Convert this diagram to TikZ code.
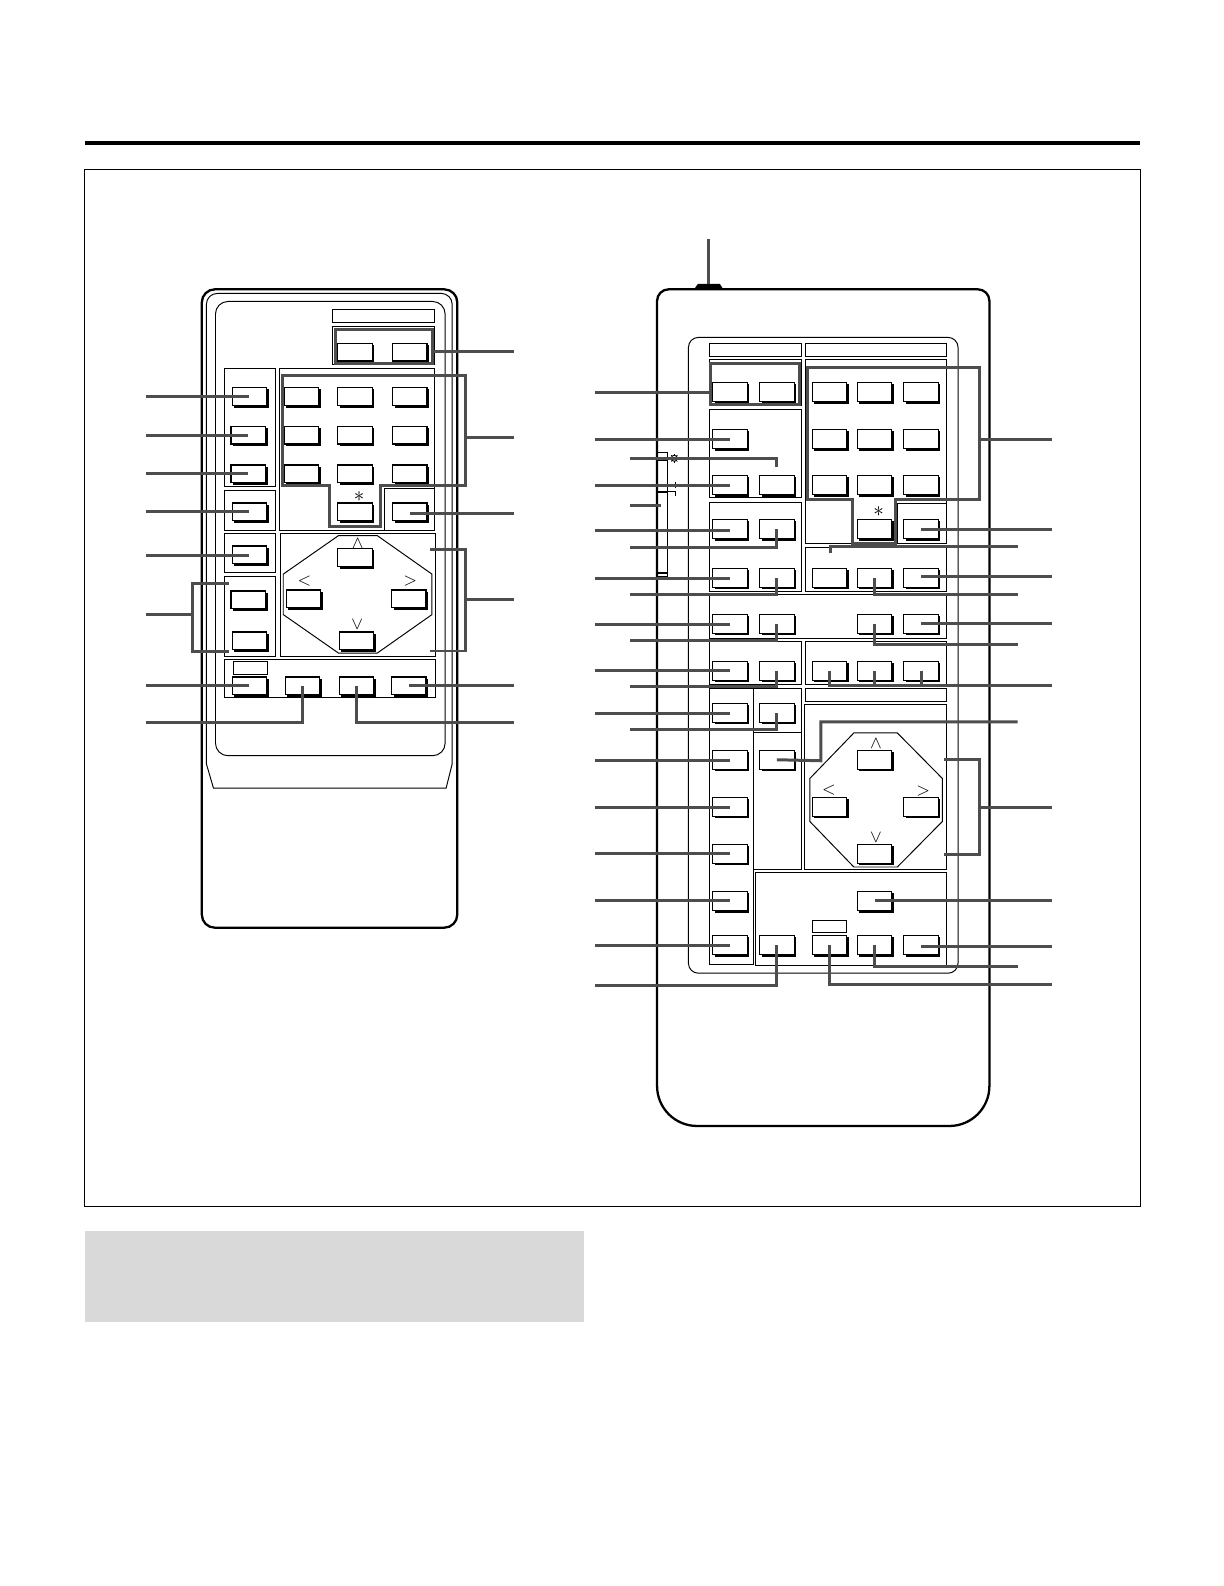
\documentclass[tikz,border=0pt]{standalone}
\usepackage{amsmath}
\usepackage{amssymb}
\definecolor{leadgrey}{HTML}{4D4D4D}
\definecolor{notegrey}{HTML}{D9D9D9}
\tikzstyle{keybtn} = [draw=black, fill=white, line width=0.7pt, rectangle, inner sep=0pt,
    minimum width=0.69cm, minimum height=0.355cm]
\tikzstyle{keybig} = [keybtn, minimum height=0.38cm]
\tikzstyle{panel} = [draw=black, line width=0.55pt]
\tikzstyle{body} = [draw=black, line width=1.3pt]
\tikzstyle{lead} = [draw=leadgrey, line width=1.7pt]
\tikzstyle{keymark} = [inner sep=0pt, font=\normalsize]

\begin{document}
\begin{tikzpicture}[x=0.02024cm, y=-0.02024cm]
    \useasboundingbox (0cm,0cm) rectangle (24.48cm,-31.72cm);
    \fill[black] (84,139) rectangle (1127,143);
    \draw[panel] (84,168) rectangle (1127,1193);
    \fill[notegrey] (84,1217) rectangle (577,1307);

    % small remote
    \draw[body, rounded corners=0.26cm] (199.5,286) rectangle (452,917);
    \draw[panel, rounded corners=0.22cm] (204,755) -- (204,290) -- (447,290) -- (447,755);
    \draw[panel] (204,755) -- (211,779) -- (441,779) -- (447,755);
    \draw[panel, rounded corners=0.25cm] (213,298) rectangle (440,747);
    \foreach \xa/\ya/\xb/\yb in {328.5/305.5/429.5/319, 328.5/323/429.5/360, 221.5/364/272.5/480.5, 221.5/484.5/272.5/524,
        221.5/527/272.5/565.5, 221.5/569.5/272.5/648.5, 276/364/429.5/524, 380/482.5/429.5/524, 277/527/430/648.5,
        221.5/651.5/430/689, 230.5/653.5/264.5/666.5}
        \draw[panel] (\xa,\ya) rectangle (\xb,\yb);
    \draw[panel] (334.5,529.5) -- (373,529.5) -- (427,567.5) -- (427,607.5) -- (373,645.5) -- (334.5,645.5) -- (280,607.5) -- (280,567.5) -- cycle;

    \foreach \name/\x/\y in {sa/351/348, sb/405/348, sc/246.5/392, sd/245.5/430, se/245.5/468.5, sf/246.5/506,
        sg/246.5/548.5, sh/245.5/593, si/246.5/633.5, sj/246.5/678, sk/299/678, sl/352.5/678, sm/404/678,
        sn/298/392, so/351/392, sp/405/392, sq/298/430, sr/351/430, ss/405/430,
        st/298/468.5, su/351/468.5, sv/405/468.5, sw/351/506, sx/405/506,
        sup/351/551, sleft/300/592, sright/404/592, sdown/352.5/633.5} {
        \fill[black] (\x-15,\y-7) rectangle (\x+19,\y+11);
        \node[keybtn] (\name) at (\x,\y) {};
    }
    \node[keymark, font=\large] (sstar) at (355,491) {$\ast$};
    \node[keymark] (suparrow) at (353.5,537) {$\wedge$};
    \node[keymark] (sleftarrow) at (301,574.5) {$<$};
    \node[keymark] (srightarrow) at (405.5,574.5) {$>$};
    \node[keymark] (sdownarrow) at (353,617.5) {$\vee$};

    % big remote
    \fill[black] (686,286) -- (690,280.5) -- (711.5,280.5) -- (715,286) -- cycle;
    \draw[body, rounded corners=0.23cm] (649.5,700) -- (649.5,286) -- (978,286) -- (978,700);
    \draw[body, rounded corners=0.8cm] (978,700) -- (978,1113) -- (649.5,1113) -- (649.5,700);
    \draw[panel, rounded corners=0.2cm] (680.5,333.5) rectangle (947,962);
    \foreach \xa/\ya/\xb/\yb in {701/340/792.5/352.5, 796.5/340/935.5/352.5, 701/355/792.5/401, 701/404.5/792.5/492,
        701/496.5/792.5/584.5, 796.5/355/935.5/537, 887.5/497.5/935.5/537, 796.5/541/935.5/584.5, 701/587.5/935.5/631,
        701/634.5/792.5/677, 796.5/634.5/935.5/677, 701/681/744.5/953.5, 744.5/681/792.5/724.5, 744.5/724.5/792.5/859,
        796.5/681/935.5/693, 795.5/696/935.5/859, 747/862/935.5/954, 803.5/909.5/837/921.5, 649.5/447/660/570}
        \draw[panel] (\xa,\ya) rectangle (\xb,\yb);
    \draw[panel] (844,724.5) -- (887,724.5) -- (931.5,769.5) -- (931.5,812) -- (887,857) -- (844,857) -- (800.5,812) -- (800.5,769.5) -- cycle;
    \draw[panel, line width=1.2pt] (649.5,454.5) -- (660,454.5) (649.5,486) -- (660,486) (649.5,566) -- (660,566);
    \draw[panel] (660,486) -- (667.5,486) -- (667.5,490) (667.5,476) -- (667.5,482.5);
    \draw[panel] (666.5,453) circle (0.06cm);
    \foreach \a in {0,45,...,315}
        \draw[panel, line width=0.4pt] (666.5,453) ++(\a:3) -- ++(\a:1.5);

    \foreach \name/\x/\y in {ba/721.5/387.5, bb/768/387.5, bc/721.5/434, bd/721.5/479.5, be/768/479.5,
        bf/721.5/523, bg/768/523, bh/721.5/571, bi/768/571, bj/721.5/616.5, bk/768/616.5, bl/721.5/663, bm/768/663,
        bn/721.5/704.5, bo/768/704.5, bp/721.5/751, bq/768/751, br/721.5/797.5, bs/721.5/844, bt/721.5/890.5, bu/721.5/934,
        bv/768/934, bw/820/934, bx/864.5/934, by/910.5/934, bz/864.5/890.5,
        ca/820/387.5, cb/864.5/387.5, cc/910.5/387.5, cd/820/434, ce/864.5/434, cf/910.5/434, cg/820/479.5, ch/864.5/479.5, ci/910.5/479.5,
        cj/864.5/523, ck/910.5/523, cl/820/571, cm/864.5/571, cn/910.5/571, co/864.5/616.5, cp/910.5/616.5,
        cq/820/663, cr/864.5/663, cs/910.5/663,
        bup/864.5/751, bleft/820/797.5, bright/910.5/797.5, bdown/864.5/844} {
        \fill[black] (\x-15,\y-8) rectangle (\x+19,\y+11.5);
        \node[keybig] (\name) at (\x,\y) {};
    }
    \node[keymark, font=\large] (bstar) at (868.5,506) {$\ast$};
    \node[keymark] (buparrow) at (866,735.5) {$\wedge$};
    \node[keymark] (bleftarrow) at (819.5,781) {$<$};
    \node[keymark] (brightarrow) at (912.5,781.5) {$>$};
    \node[keymark] (bdownarrow) at (866,827.5) {$\vee$};

    % leaders of the small remote
    \foreach \cname/\y/\bname in {la/391.5/sc, lb/430/sd, lc/468.5/se, ld/506/sf, le/549/sg, lf/678/sj} {
        \coordinate (\cname) at (144,\y);
        \draw[lead] (\cname) -- (\cname -| \bname.center);
    }
    \coordinate (lg) at (144,714.5);
    \draw[lead] (lg) -| (sk.center);
    \coordinate (lh) at (144,607);
    \coordinate (lhtop) at (226,577);
    \coordinate (lhbot) at (226,644);
    \coordinate (lhmid) at (190,607);
    \draw[lead] (lh) -- (lhmid);
    \draw[lead] (lhtop) -- (190,577) -- (190,644) -- (lhbot);
    \draw[lead] (332,325.5) rectangle (427.5,359);
    \coordinate (ra) at (508,347);
    \coordinate (raend) at (427.5,347);
    \draw[lead] (ra) -- (raend);
    \draw[lead] (279,371.5) -- (460.5,371.5) -- (460.5,480) -- (376,480) -- (376,520.5) -- (325.5,520.5) -- (325.5,480) -- (279,480) -- cycle;
    \coordinate (rb) at (508,432);
    \coordinate (rbend) at (460.5,432);
    \draw[lead] (rb) -- (rbend);
    \coordinate (rc) at (508,508);
    \draw[lead] (rc) -- (rc -| sx.center);
    \coordinate (rdtop) at (425,543);
    \coordinate (rdbot) at (425,643.5);
    \draw[lead] (rdtop) -- (460.5,543) -- (460.5,643.5) -- (rdbot);
    \coordinate (rd) at (508,593);
    \coordinate (rdend) at (460.5,593);
    \draw[lead] (rd) -- (rdend);
    \coordinate (re) at (508,678);
    \draw[lead] (re) -- (sm.center);
    \coordinate (rf) at (508,714.5);
    \draw[lead] (rf) -| (sl.center);

    % leaders of the big remote
    \coordinate (antenna) at (700,236);
    \coordinate (antennaend) at (700,281);
    \draw[lead] (antenna) -- (antennaend);
    \draw[lead] (702,359) rectangle (790.5,400);
    \coordinate (ma) at (588,387.5);
    \coordinate (maend) at (702,387.5);
    \draw[lead] (ma) -- (maend);
    \foreach \cname/\y/\bname in {mb/434/bc, mc/479.5/bd, md/524/bf, me/571.5/bh, mf/617/bj, mg/662.5/bl,
        mh/705/bn, mi/752/bp, mj/798.5/br, mk/844/bs, ml/890.5/bt, mm/935/bu} {
        \coordinate (\cname) at (588,\y);
        \draw[lead] (\cname) -- (\cname -| \bname.center);
    }
    \coordinate (mn) at (588,974);
    \draw[lead] (mn) -| (bv.center);
    \foreach \cname/\y/\bname in {na/541/bg, nb/588/bi, nc/633.5/bk, nd/679/bm, ne/721.5/bo} {
        \coordinate (\cname) at (622.5,\y);
        \draw[lead] (\cname) -| (\bname.center);
    }
    \coordinate (nf) at (622.5,453);
    \coordinate (nfend) at (768,462);
    \draw[lead] (nf) -| (nfend);
    \coordinate (ng) at (622.5,499.5);
    \coordinate (ngend) at (653,499.5);
    \draw[lead] (ng) -- (ngend);

    \draw[lead] (798,363) -- (968,363) -- (968,494) -- (885,494) -- (885,537) -- (843,537) -- (843,494) -- (798,494) -- cycle;
    \coordinate (pa) at (1040,434);
    \coordinate (paend) at (968,434);
    \draw[lead] (pa) -- (paend);
    \foreach \cname/\y/\bname in {pb/523/ck, pc/569.5/cn, pd/616/cp, pe/890.5/bz, pf/936/by} {
        \coordinate (\cname) at (1040,\y);
        \draw[lead] (\cname) -- (\cname -| \bname.center);
    }
    \coordinate (qa) at (1006,540);
    \coordinate (qaend) at (820.5,547);
    \draw[lead] (qa) -| (qaend);
    \foreach \cname/\y/\bname in {qb/588/cm, qc/637.5/co, qd/955/bx} {
        \coordinate (\cname) at (1006,\y);
        \draw[lead] (\cname) -| (\bname.center);
    }
    \coordinate (pg) at (1040,678);
    \draw[lead] (pg) -| (cq.center);
    \draw[lead] (864.5,678) -- (cr.center);
    \draw[lead] (910.5,678) -- (cs.center);
    \coordinate (qe) at (1006,713.5);
    \draw[lead] (qe) -- (811.5,713.5) -- (811.5,752) -- (bq.center);
    \coordinate (phtop) at (933,751);
    \coordinate (phbot) at (933,845);
    \draw[lead] (phtop) -- (968,751) -- (968,845) -- (phbot);
    \coordinate (ph) at (1040,798);
    \coordinate (phend) at (968,798);
    \draw[lead] (ph) -- (phend);
    \coordinate (pi) at (1040,973.5);
    \draw[lead] (pi) -| (bw.center);
\end{tikzpicture}
\end{document}
